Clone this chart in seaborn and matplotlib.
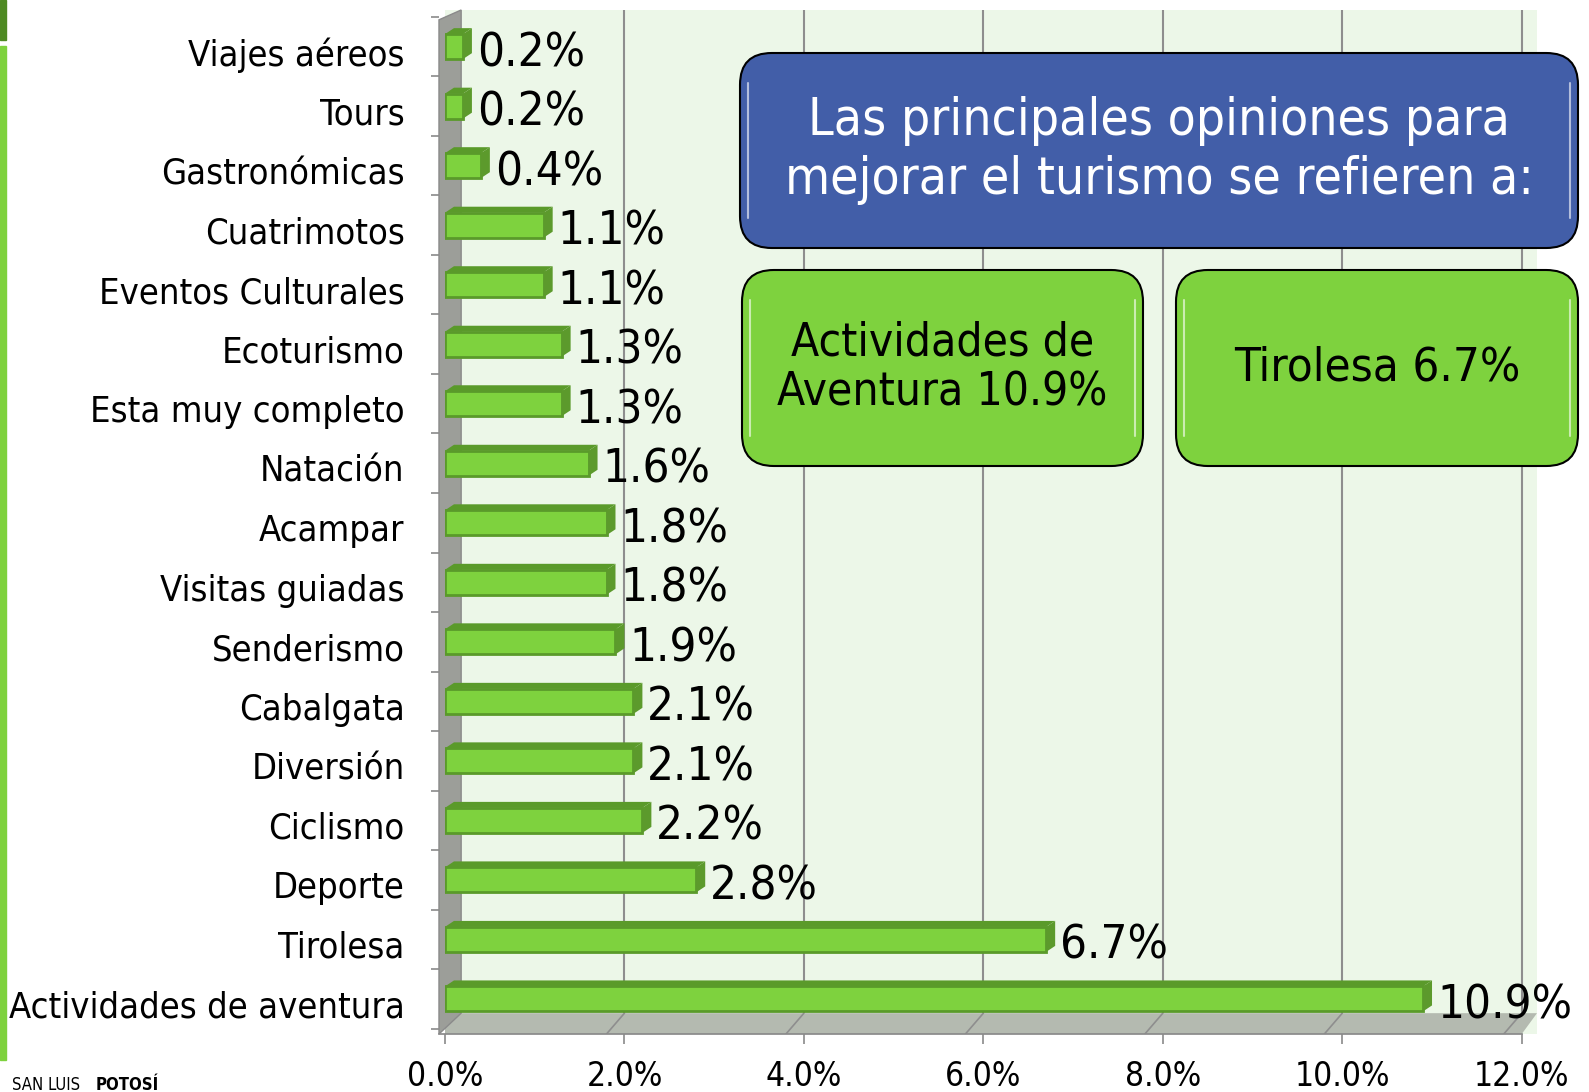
import matplotlib
matplotlib.use("Agg")
import matplotlib.pyplot as plt
import matplotlib.transforms as mtransforms
from matplotlib.patches import FancyBboxPatch, Polygon, Rectangle
import pandas as pd
import seaborn as sns

# datos del grafico
categorias = ['Viajes aéreos', 'Tours', 'Gastronómicas', 'Cuatrimotos',
              'Eventos Culturales', 'Ecoturismo', 'Esta muy completo', 'Natación',
              'Acampar', 'Visitas guiadas', 'Senderismo', 'Cabalgata', 'Diversión',
              'Ciclismo', 'Deporte', 'Tirolesa', 'Actividades de aventura']
valores = [0.2, 0.2, 0.4, 1.1, 1.1, 1.3, 1.3, 1.6, 1.8, 1.8, 1.9, 2.1, 2.1, 2.2, 2.8, 6.7, 10.9]
ticks_x = [0, 2, 4, 6, 8, 10, 12]
etiquetas_x = ['0.0%', '2.0%', '4.0%', '6.0%', '8.0%', '10.0%', '12.0%']

titulo_caja = "Las principales opiniones para\nmejorar el turismo se refieren a:"
texto_caja_1 = "Actividades de\nAventura 10.9%"
texto_caja_2 = "Tirolesa 6.7%"

verde = '#7ED23E'
verde_osc = '#5A9A2A'
azul = '#425EA8'

W, H = 1589, 1092
sns.set_theme(style='white')
plt.rcParams['font.family'] = ['DejaVu Sans']
plt.rcParams['font.stretch'] = 'condensed'
plt.rcParams['text.color'] = 'black'
plt.rcParams['xtick.color'] = 'black'
plt.rcParams['ytick.color'] = 'black'

fig = plt.figure(figsize=(W / 100, H / 100), dpi=100)
fig.patch.set_facecolor('white')

# franja verde del borde izquierdo
fig.patches.append(Rectangle((0, 1 - 40 / H), 6 / W, 40 / H, transform=fig.transFigure,
                             color='#4E8A22', zorder=0))
fig.patches.append(Rectangle((0, 1 - 1060 / H), 6 / W, (1060 - 46) / H, transform=fig.transFigure,
                             color=verde, zorder=0))

ax = fig.add_axes([445 / W, 1 - 1034 / H, (1537 - 445) / W, (1034 - 10) / H])
ax.set_facecolor('#ECF7E8')

df = pd.DataFrame({'categoria': categorias, 'valor': valores})
sns.barplot(data=df, x='valor', y='categoria', orient='h', color=verde,
            edgecolor=verde_osc, linewidth=2, width=0.42, saturation=1, ax=ax, zorder=4)

x_top = 12.17
y_top, y_floor, y_front = -0.615, 16.24, 16.59
ax.set_xlim(0, x_top)
ax.set_ylim(y_front, y_top)

# caras superior y lateral de las barras (efecto 3D)
dx, dy, h = 0.1, 0.1, 0.42
for i, v in enumerate(valores):
    top = i - h / 2
    ax.add_patch(Polygon([(0, top), (v, top), (v + dx, top - dy), (dx, top - dy)],
                         closed=True, facecolor=verde_osc, edgecolor='none', zorder=3))
    ax.add_patch(Polygon([(v, top), (v + dx, top - dy), (v + dx, top + h - dy), (v, top + h)],
                         closed=True, facecolor='#5C9A2C', edgecolor='none', zorder=5))

# lineas de cuadricula del fondo y del piso
ax.vlines(ticks_x[1:], y_top, y_floor, color='#8E8E8E', lw=1.5, zorder=1)
for t in ticks_x[1:]:
    ax.plot([t, t - 0.2], [y_floor, y_front], color='#8E8E8E', lw=1.2, zorder=2)

# piso y pared izquierda
ax.add_patch(Polygon([(-0.067, y_front), (12, y_front), (x_top, y_floor), (0.18, y_floor)],
                     closed=True, facecolor='#B4BAB0', edgecolor='none', zorder=1))
ax.add_patch(Polygon([(-0.067, y_front), (-0.067, -0.45), (0.18, y_top), (0.18, y_floor)],
                     closed=True, facecolor='#9C9E99', edgecolor='#8A8A8A', lw=1,
                     clip_on=False, zorder=2))
ax.hlines([k + 0.5 for k in range(-1, 17)], -0.16, -0.067, color='#8A8A8A', lw=1.2,
          clip_on=False, zorder=2)

for s in ['top', 'right', 'left']:
    ax.spines[s].set_visible(False)
ax.spines['bottom'].set_color('#8A8A8A')
ax.spines['bottom'].set_bounds(-0.067, 12)

ax.set_xticks(ticks_x)
ax.set_xticklabels(etiquetas_x, fontsize=24)
ax.tick_params(axis='x', bottom=True, length=7, width=1.2, color='#8A8A8A', pad=12)
ax.set_yticks(range(len(categorias)))
ax.set_yticklabels(categorias, fontsize=26)
ax.tick_params(axis='y', left=False, length=0, pad=29)
ax.set_xlabel('')
ax.set_ylabel('')

shift = mtransforms.ScaledTranslation(0, -5 / 100, fig.dpi_scale_trans)
for lab in ax.get_yticklabels():
    lab.set_transform(lab.get_transform() + shift)

etiquetas = ax.bar_label(ax.containers[0], labels=[f"{v:.1f}%" for v in valores],
                         padding=10, fontsize=34, zorder=6)
for t in etiquetas:
    xo, yo = t.xyann
    t.xyann = (xo, yo - 5)

# cajas de texto
def caja(x0, y0, x1, y1, color, texto, tcolor, size, esp):
    fig.patches.append(FancyBboxPatch((x0 / W, 1 - y1 / H), (x1 - x0) / W, (y1 - y0) / H,
                                      boxstyle='round,pad=0,rounding_size=0.02',
                                      transform=fig.transFigure, facecolor=color,
                                      edgecolor='black', lw=1.5, zorder=10,
                                      mutation_aspect=W / H))
    fig.lines.append(plt.Line2D([(x0 + 8) / W] * 2, [1 - (y0 + 30) / H, 1 - (y1 - 30) / H],
                                transform=fig.transFigure, color='white', alpha=0.6, lw=1.5,
                                zorder=11))
    fig.lines.append(plt.Line2D([(x1 - 8) / W] * 2, [1 - (y0 + 30) / H, 1 - (y1 - 30) / H],
                                transform=fig.transFigure, color='white', alpha=0.6, lw=1.5,
                                zorder=11))
    fig.text((x0 + x1) / 2 / W, 1 - (y0 + y1) / 2 / H, texto, color=tcolor, fontsize=size,
             ha='center', va='center', linespacing=esp, zorder=12)

caja(740, 53, 1578, 248, azul, titulo_caja, 'white', 37, 1.22)
caja(742, 270, 1143, 466, verde, texto_caja_1, 'black', 33, 1.15)
caja(1176, 270, 1578, 466, verde, texto_caja_2, 'black', 34, 1.0)

fig.text(12 / W, 1 - 1076 / H, 'SAN LUIS ', fontsize=12, va='top', ha='left')
fig.text(96 / W, 1 - 1076 / H, 'POTOSÍ', fontsize=12, va='top', ha='left', fontweight='bold')

fig.savefig('out.png', dpi=100)
